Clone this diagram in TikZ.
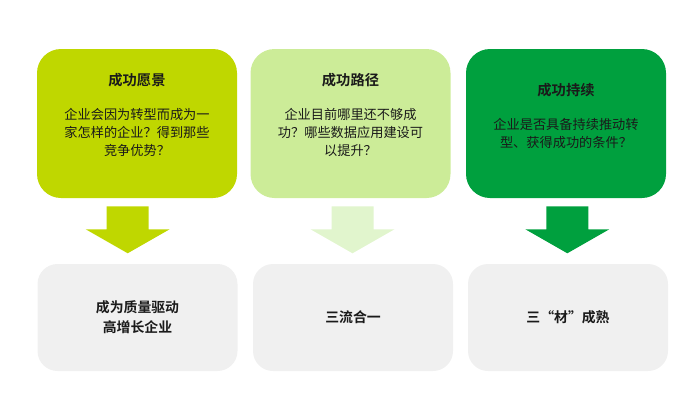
\documentclass[tikz,border=0pt]{standalone}
\usepackage{fontspec}
\setmainfont{Noto Sans CJK SC}[BoldFont={Noto Sans CJK SC Bold}]
\definecolor{limegreen}{HTML}{BFD700}
\definecolor{palegreen}{HTML}{CCEC98}
\definecolor{palearrow}{HTML}{E1F5CD}
\definecolor{deepgreen}{HTML}{00A03E}
\definecolor{lightgrey}{HTML}{F0F0F0}
\definecolor{ink}{HTML}{1A1A1A}
\newcommand{\headfont}{\fontsize{10.7}{13.5}\selectfont\bfseries}
\tikzset{
  topbox/.style={rounded corners=18pt,minimum width=150pt,minimum height=111.75pt,inner sep=0pt},
  lowbox/.style={rounded corners=15pt,fill=lightgrey,minimum width=150pt,minimum height=80.25pt,
    inner sep=0pt,align=center,text=ink,font=\fontsize{10.4}{15}\selectfont\bfseries},
  toptext/.style={align=center,text=ink,font=\fontsize{9.9}{13.5}\selectfont}
}
\begin{document}
\begin{tikzpicture}[x=0.75pt,y=-0.75pt]
  \useasboundingbox (0,0) rectangle (700,415);
  \def\blockarrow#1#2{\fill[#2] (#1) ++(-21,8) -- ++(42,0) -- ++(0,23) -- ++(21,0)
    -- ++(-42,24) -- ++(-42,-24) -- ++(21,0) -- cycle;}
  % top boxes
  \node[topbox,fill=limegreen] (v1) at (137,123.5) {};
  \node[topbox,fill=palegreen] (v2) at (350.5,123.5) {};
  \node[topbox,fill=deepgreen] (v3) at (566,123.5) {};
  \node[toptext] (t1) at (137,115) {{\headfont 成功愿景}\\[12pt]企业会因为转型而成为一\\家怎样的企业？得到那些\\竞争优势？};
  \node[toptext] (t2) at (350.5,115) {{\headfont 成功路径}\\[12pt]企业目前哪里还不够成\\功？哪些数据应用建设可\\以提升？};
  \node[toptext] (t3) at (566,116) {{\headfont 成功持续}\\[12pt]企业是否具备持续推动转\\型、获得成功的条件？};
  % arrows
  \coordinate (a1) at ([xshift=-7]v1.south);
  \coordinate (a2) at ([xshift=1.5]v2.south);
  \coordinate (a3) at ([xshift=1]v3.south);
  \blockarrow{a1}{limegreen}
  \blockarrow{a2}{palearrow}
  \blockarrow{a3}{deepgreen}
  % bottom boxes
  \node[lowbox] (r1) at (137.5,317.5) {成为质量驱动\\高增长企业};
  \node[lowbox] (r2) at (353,317.5) {三流合一};
  \node[lowbox] (r3) at (568,317.5) {三“材”成熟};
\end{tikzpicture}
\end{document}
